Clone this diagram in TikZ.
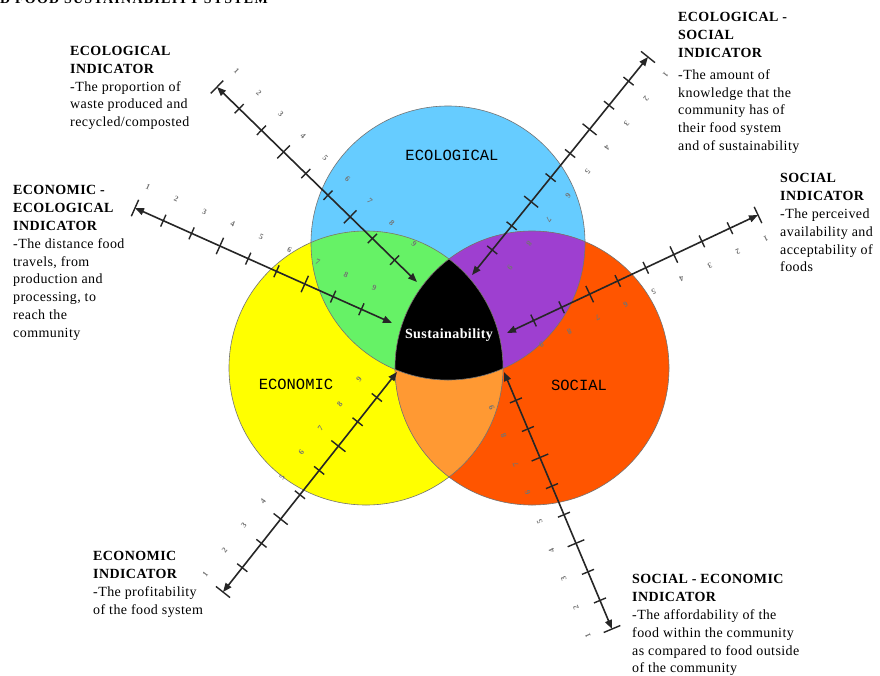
\documentclass[tikz,border=0pt]{standalone}
\usepackage{fontspec}
\setmainfont{Liberation Serif}
\newfontfamily\txtfont[LetterSpace=3]{Liberation Serif}
\newfontfamily\titlefont[LetterSpace=9]{Liberation Serif}
\newfontfamily\monofnt{Liberation Mono}
\usetikzlibrary{arrows.meta,calc}
\definecolor{ecoblue}{HTML}{66CCFF}
\definecolor{econyellow}{HTML}{FFFF00}
\definecolor{socred}{HTML}{FF5500}
\definecolor{ovgreen}{HTML}{66F266}
\definecolor{ovpurple}{HTML}{9E3FD0}
\definecolor{ovorange}{HTML}{FF9933}
\begin{document}
\begin{tikzpicture}[x=1pt,y=-1pt,
  indtext/.style={anchor=north west, inner sep=0pt, align=left,
    font=\txtfont\fontsize{14}{17.8}\selectfont},
  circlabel/.style={inner sep=0pt, font=\monofnt\fontsize{15.5}{17}\selectfont},
  axisline/.style={draw=black!85, line width=1.6pt,
    {Triangle[length=9pt,width=7pt]}-{Triangle[length=9pt,width=7pt]}},
  tickline/.style={draw=black!85, line width=1.4pt},
  numlabel/.style={inner sep=0pt, text=black!55, font=\fontsize{8}{9}\selectfont\bfseries},
  circedge/.style={draw=black!55, line width=0.6pt}
]
\useasboundingbox (0,0) rectangle (880,675);
\fill[white] (0,0) rectangle (880,675);

% cut-off title at the top edge
\begin{scope}
\clip (0,0) rectangle (880,675);
\node[anchor=base west, inner sep=0pt, font=\titlefont\fontsize{14}{16}\selectfont\bfseries] (title) at (0,3) {D FOOD SUSTAINABILITY SYSTEM};
\end{scope}

% circle centres
\coordinate (cEco) at (448,243);
\coordinate (cEcon) at (366,368);
\coordinate (cSoc) at (532,368);

\fill[ecoblue] (cEco) circle[radius=137pt];
\fill[econyellow] (cEcon) circle[radius=137pt];
\fill[socred] (cSoc) circle[radius=137pt];
\begin{scope}
  \clip (cEco) circle[radius=137pt];
  \fill[ovgreen] (cEcon) circle[radius=137pt];
  \fill[ovpurple] (cSoc) circle[radius=137pt];
\end{scope}
\begin{scope}
  \clip (cEcon) circle[radius=137pt];
  \fill[ovorange] (cSoc) circle[radius=137pt];
  \clip (cSoc) circle[radius=137pt];
  \fill[black] (cEco) circle[radius=137pt];
\end{scope}
\draw[circedge] (cEco) circle[radius=137pt];
\draw[circedge] (cEcon) circle[radius=137pt];
\draw[circedge] (cSoc) circle[radius=137pt];

\node[circlabel] (labEco) at (452,155) {ECOLOGICAL};
\node[circlabel] (labEcon) at (296,384) {ECONOMIC};
\node[circlabel] (labSoc) at (579,385) {SOCIAL};
\node[inner sep=0pt, text=white, font=\txtfont\fontsize{14}{16}\selectfont\bfseries] (sust) at (449,335) {Sustainability};

% axes
\foreach \nm/\ox/\oy/\ix/\iy in {eco/217/87/417/282, ecs/648/57/472/275, soc/758/215/507/333, ece/135/208/392/323, ecn/223/592/397/372, sce/612/629/504/372}{
  \pgfmathsetmacro\adx{\ix-\ox}
  \pgfmathsetmacro\ady{\iy-\oy}
  \pgfmathsetmacro\alen{veclen(\adx,\ady)}
  \pgfmathsetmacro\aux{\adx/\alen}
  \pgfmathsetmacro\auy{\ady/\alen}
  \pgfmathsetmacro\aang{atan2(-\ady,\adx)}
  \pgfmathtruncatemacro\antk{floor((\alen-15)/31)}
  \coordinate (\nm-o) at (\ox,\oy);
  \coordinate (\nm-i) at (\ix,\iy);
  \draw[axisline] (\nm-o) -- (\nm-i);
  \foreach \k in {0,...,\antk}{
    \pgfmathsetmacro\ahl{ifthenelse(mod(\k,3)==0,9,6.5)}
    \pgfmathtruncatemacro\anum{\k+1}
    \pgfmathsetmacro\tx{\ox+\k*31*\aux}
    \pgfmathsetmacro\ty{\oy+\k*31*\auy}
    \pgfmathsetmacro\px{\ahl*\auy}
    \pgfmathsetmacro\py{-\ahl*\aux}
    \pgfmathsetmacro\lx{\tx+25*\auy+3*\aux}
    \pgfmathsetmacro\ly{\ty-25*\aux+3*\auy}
    \coordinate (\nm-t\k) at (\tx,\ty);
    \draw[tickline] ($(\nm-t\k)+(\px,\py)$) -- ($(\nm-t\k)-(\px,\py)$);
    \node[numlabel, rotate=\aang] (\nm-n\k) at (\lx,\ly) {\anum};
  }
}

% indicator texts
\node[indtext] (tEco) at (70,46) {\textbf{ECOLOGICAL}\\\textbf{INDICATOR}\\-The proportion of\\waste produced and\\recycled/composted};
\node[indtext] (tEcs) at (678,12.5) {\textbf{ECOLOGICAL -}\\\textbf{SOCIAL}\\\textbf{INDICATOR}\\[4pt]-The amount of\\knowledge that the\\community has of\\their food system\\and of sustainability};
\node[indtext] (tEce) at (13,185.5) {\textbf{ECONOMIC -}\\\textbf{ECOLOGICAL}\\\textbf{INDICATOR}\\-The distance food\\travels, from\\production and\\processing, to\\reach the\\community};
\node[indtext] (tSoc) at (780,173.5) {\textbf{SOCIAL}\\\textbf{INDICATOR}\\-The perceived\\availability and\\acceptability of\\foods};
\node[indtext] (tEcn) at (93,551.5) {\textbf{ECONOMIC}\\\textbf{INDICATOR}\\-The profitability\\of the food system};
\node[indtext] (tSce) at (632,574.5) {\textbf{SOCIAL - ECONOMIC}\\\textbf{INDICATOR}\\-The affordability of the\\food within the community\\as compared to food outside\\of the community};
\end{tikzpicture}
\end{document}
